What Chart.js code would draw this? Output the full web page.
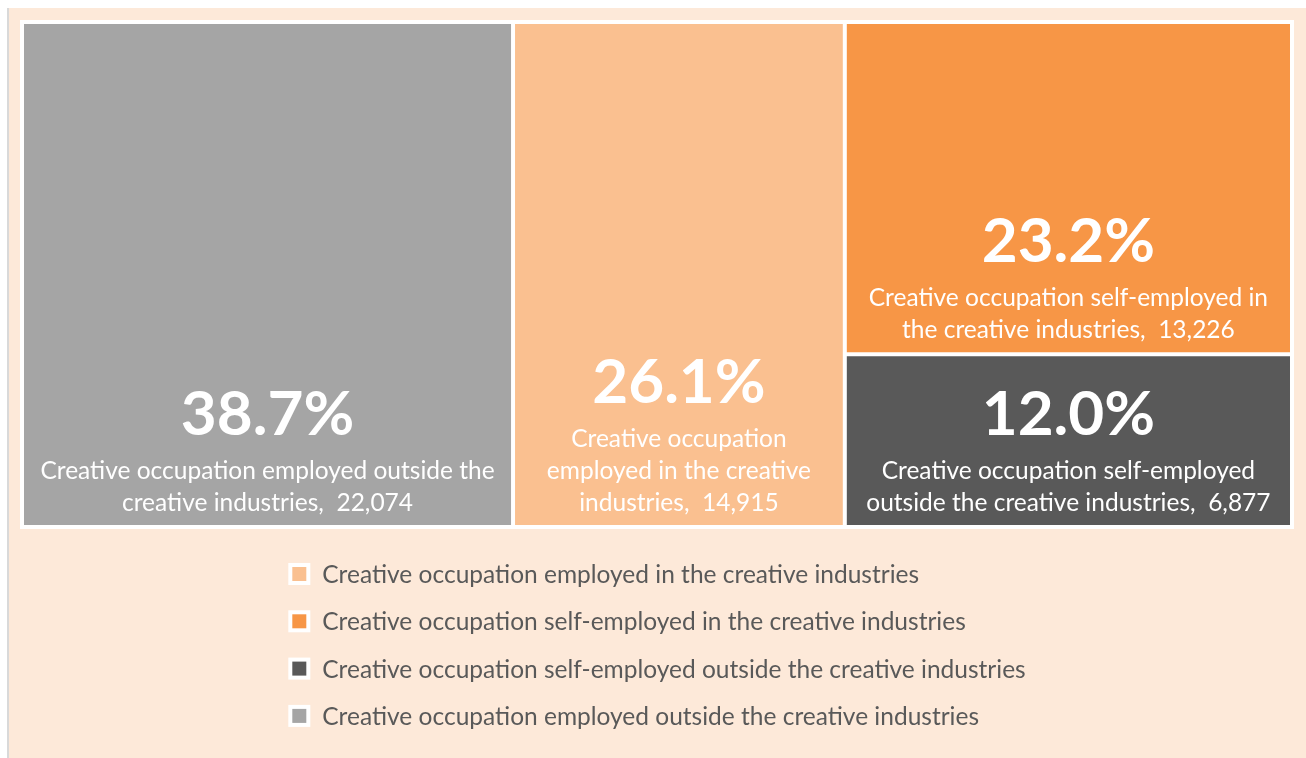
<!DOCTYPE html>
<html>
<head>
<meta charset="utf-8">
<script src="https://cdn.jsdelivr.net/npm/chart.js@4.4.1/dist/chart.umd.min.js"></script>
<style>
  html, body { margin: 0; padding: 0; background: #ffffff; }
  #wrap { width: 1306px; height: 758px; position: relative; }
</style>
</head>
<body>
<div id="wrap"><canvas id="chart" width="1306" height="758"></canvas></div>
<script>
// Creative occupations by employment type (legend order)
const categories = [
  'Creative occupation employed in the creative industries',
  'Creative occupation self-employed in the creative industries',
  'Creative occupation self-employed outside the creative industries',
  'Creative occupation employed outside the creative industries'
];
const employment = [14915, 13226, 6877, 22074];
const tileColors = ['#FAC090', '#F79646', '#595959', '#A5A5A5'];

const FONT = 'Lato, "Open Sans", sans-serif';
const TEXT_SIZE = 24.5;
const total = employment.reduce((a, b) => a + b, 0);

// Squarified treemap layout in a box of the given size, returned as unit fractions.
function squarify(values, width, height) {
  const order = values.map((v, i) => i).sort((a, b) => values[b] - values[a]);
  const scale = (width * height) / values.reduce((a, b) => a + b, 0);
  const areas = order.map(i => values[i] * scale);
  const out = new Array(values.length);
  let x = 0, y = 0, w = width, h = height;
  let row = [];
  const worst = (r, side) => {
    const s = r.reduce((a, b) => a + b, 0);
    const mx = Math.max(...r), mn = Math.min(...r);
    return Math.max((side * side * mx) / (s * s), (s * s) / (side * side * mn));
  };
  const layoutRow = (r, idx) => {
    const s = r.reduce((a, b) => a + b, 0);
    if (w >= h) {            // column on the left
      const cw = s / h;
      let cy = y;
      r.forEach((a, k) => { const ch = a / cw; out[idx[k]] = { x0: x, y0: cy, x1: x + cw, y1: cy + ch }; cy += ch; });
      x += cw; w -= cw;
    } else {                 // row along the top
      const rh = s / w;
      let cx = x;
      r.forEach((a, k) => { const rw = a / rh; out[idx[k]] = { x0: cx, y0: y, x1: cx + rw, y1: y + rh }; cx += rw; });
      y += rh; h -= rh;
    }
  };
  let idx = [];
  let k = 0;
  while (k < areas.length) {
    const side = Math.min(w, h);
    const cand = row.concat([areas[k]]);
    if (row.length === 0 || worst(cand, side) <= worst(row, side)) {
      row = cand; idx.push(order[k]); k++;
    } else {
      layoutRow(row, idx); row = []; idx = [];
    }
  }
  if (row.length) layoutRow(row, idx);
  return out.map(r => ({ x0: r.x0 / width, y0: r.y0 / height, x1: r.x1 / width, y1: r.y1 / height }));
}

// Treemap controller: each tile is a Chart.js BarElement placed through the x/y scales.
class TreemapController extends Chart.DatasetController {
  update(mode) {
    const meta = this._cachedMeta;
    this.updateElements(meta.data, 0, meta.data.length, mode);
  }
  updateElements(tiles, start, count, mode) {
    const meta = this._cachedMeta;
    const xs = meta.xScale, ys = meta.yScale;
    const values = this.getDataset().data.map(d => d.v);
    const rects = squarify(values, xs.width, ys.height);
    for (let i = start; i < start + count; i++) {
      const r = rects[i];
      const left = xs.getPixelForValue(r.x0), right = xs.getPixelForValue(r.x1);
      const top = ys.getPixelForValue(r.y0), bottom = ys.getPixelForValue(r.y1);
      this.updateElement(tiles[i], i, {
        x: (left + right) / 2,
        y: top,
        base: bottom,
        width: right - left,
        height: bottom - top,
        horizontal: false,
        inflateAmount: 0,
        borderSkipped: { top: false, right: false, bottom: false, left: false },
        options: this.resolveDataElementOptions(i, mode)
      }, mode);
    }
  }
}
TreemapController.id = 'treemap';
TreemapController.defaults = { datasetElementType: false, dataElementType: 'bar' };
TreemapController.overrides = {
  scales: { x: { type: 'linear' }, y: { type: 'linear' } }
};
Chart.register(TreemapController);

// Peach panel behind everything, white frame behind the tiles
const backdrop = {
  id: 'backdrop',
  beforeDraw(chart) {
    const { ctx, width, height, chartArea: a } = chart;
    ctx.save();
    ctx.fillStyle = '#ffffff';
    ctx.fillRect(0, 0, width, height);
    ctx.fillStyle = '#FDE9D9';
    ctx.fillRect(7, 8, width - 7, height - 8);
    ctx.fillStyle = '#D9D9D9';
    ctx.fillRect(7, 8, 2, height - 8);
    ctx.fillStyle = '#ffffff';
    ctx.fillRect(a.left - 2, a.top - 2, a.right - a.left + 4, a.bottom - a.top + 4);
    ctx.restore();
  }
};

function wrapWords(ctx, words, maxWidth) {
  const lines = [];
  let cur = '';
  words.forEach(w => {
    const test = cur ? cur + ' ' + w : w;
    if (cur && ctx.measureText(test).width > maxWidth) { lines.push(cur); cur = w; }
    else cur = test;
  });
  if (cur) lines.push(cur);
  return lines;
}

// Percentage and category labels anchored to the bottom of each tile
const tileLabels = {
  id: 'tileLabels',
  afterDatasetsDraw(chart) {
    const ctx = chart.ctx;
    const meta = chart.getDatasetMeta(0);
    ctx.save();
    ctx.textAlign = 'center';
    ctx.textBaseline = 'alphabetic';
    ctx.fillStyle = '#ffffff';
    meta.data.forEach((el, i) => {
      const { x, base, width } = el.getProps(['x', 'base', 'width']);
      const words = categories[i].split(' ');
      words[words.length - 1] += ',\u00a0\u00a0' + employment[i].toLocaleString('en-US');
      ctx.font = TEXT_SIZE + 'px ' + FONT;
      const lines = wrapWords(ctx, words, width - 24);
      const lineH = 32;
      const baseY = base - 16 - (lines.length - 1) * lineH;
      lines.forEach((ln, k) => ctx.fillText(ln, x, baseY + k * lineH));
      ctx.font = 'bold 62px ' + FONT;
      const pct = (employment[i] / total * 100).toFixed(1) + '%';
      ctx.fillText(pct, x, baseY - 44);
    });
    ctx.restore();
  }
};

// Vertical legend centred under the tiles
const stackedLegend = {
  id: 'stackedLegend',
  afterDraw(chart) {
    const ctx = chart.ctx;
    const a = chart.chartArea;
    ctx.save();
    ctx.font = TEXT_SIZE + 'px ' + FONT;
    const box = 22, gap = 12;
    const maxW = Math.max(...categories.map(c => ctx.measureText(c).width));
    const startX = (a.left + a.right) / 2 - (box + gap + maxW) / 2;
    ctx.textBaseline = 'middle';
    ctx.textAlign = 'left';
    categories.forEach((c, i) => {
      const cy = a.bottom + 47 + i * 47.3;
      ctx.fillStyle = '#ffffff';
      ctx.fillRect(startX, cy - box / 2, box, box);
      ctx.fillStyle = tileColors[i];
      ctx.fillRect(startX + 4, cy - box / 2 + 4, box - 8, box - 8);
      ctx.fillStyle = '#595959';
      ctx.fillText(c, startX + box + gap, cy + 1);
    });
    ctx.restore();
  }
};

new Chart(document.getElementById('chart'), {
  type: 'treemap',
  data: {
    labels: categories,
    datasets: [{
      data: employment.map(v => ({ v })),
      parsing: false,
      backgroundColor: tileColors,
      borderColor: '#ffffff',
      borderWidth: 2
    }]
  },
  options: {
    responsive: false,
    animation: false,
    events: [],
    layout: { padding: { left: 22, right: 14, top: 22, bottom: 231 } },
    scales: {
      x: { type: 'linear', min: 0, max: 1, display: false },
      y: { type: 'linear', min: 0, max: 1, reverse: true, display: false }
    },
    plugins: { legend: { display: false }, tooltip: { enabled: false } }
  },
  plugins: [backdrop, tileLabels, stackedLegend]
});
</script>
</body>
</html>
